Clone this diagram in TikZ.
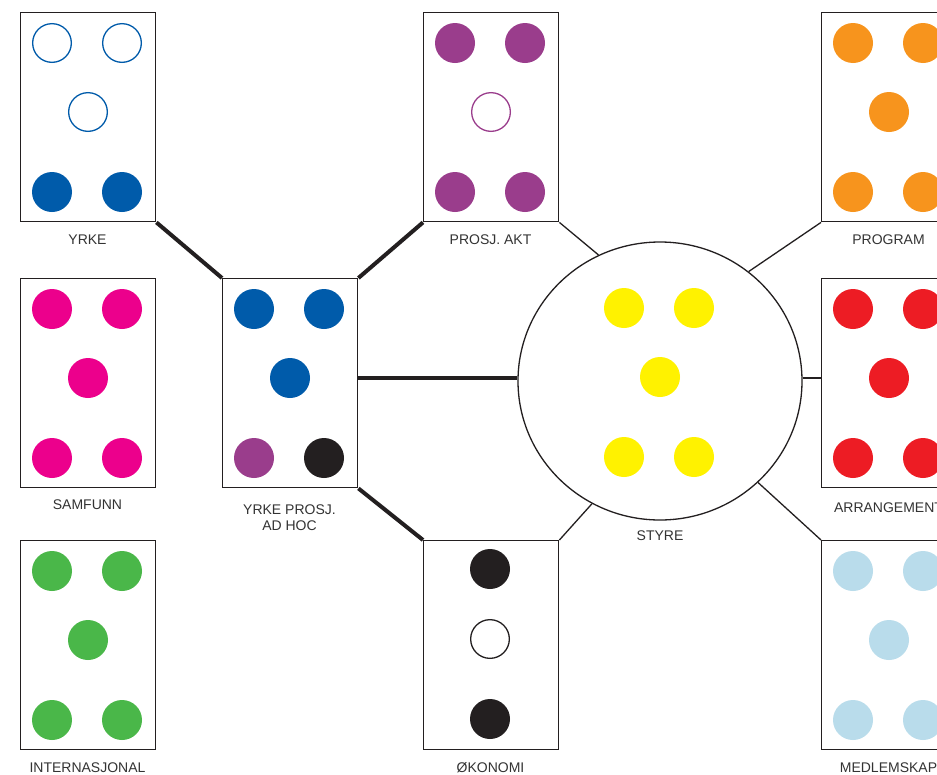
\documentclass[tikz,border=0pt]{standalone}
\usepackage{fontspec}
\setmainfont{Liberation Sans}
\usetikzlibrary{shapes.geometric}
\definecolor{cblue}{HTML}{005BAA}
\definecolor{cpurple}{HTML}{9A3D8C}
\definecolor{corange}{HTML}{F7941D}
\definecolor{cpink}{HTML}{EC008C}
\definecolor{cred}{HTML}{ED1C24}
\definecolor{cyellow}{HTML}{FFF200}
\definecolor{cgreen}{HTML}{4AB749}
\definecolor{clight}{HTML}{B9DCEB}
\definecolor{cblack}{HTML}{231F20}
\definecolor{ctext}{HTML}{333333}
\newcommand\dotset[8]{%
  \node[#4] (#1a) at (#2+32,#3+31) {};
  \node[#5] (#1b) at (#2+102,#3+31) {};
  \node[#6] (#1c) at (#2+68,#3+100) {};
  \node[#7] (#1d) at (#2+32,#3+180) {};
  \node[#8] (#1e) at (#2+102,#3+180) {};}
\begin{document}
\begin{tikzpicture}[x=1pt,y=-1pt,
  panel/.style={draw=cblack, line width=1.4pt, minimum width=135pt, minimum height=209pt, inner sep=0pt, anchor=north west},
  dot/.style={circle, fill=#1, minimum size=40pt, inner sep=0pt},
  odot/.style={circle, draw=#1, line width=1.3pt, fill=white, minimum size=38.7pt, inner sep=0pt},
  lab/.style={font=\fontsize{14}{16}\selectfont, text=ctext, align=center},
  heavylink/.style={line width=4pt, draw=cblack},
  lightlink/.style={line width=1.3pt, draw=cblack}]
\useasboundingbox (0,0) rectangle (937,774);
\clip (0,0) rectangle (937,774);
\fill[white] (0,0) rectangle (937,774);
% panels
\node[panel] (yrke) at (20,12) {};
\node[panel] (prosj) at (423,12) {};
\node[panel] (prog) at (821,12) {};
\node[panel] (samf) at (20,278) {};
\node[panel] (adhoc) at (222,278) {};
\node[panel] (arr) at (821,278) {};
\node[panel] (inter) at (20,540) {};
\node[panel] (oko) at (423,540) {};
\node[panel] (med) at (821,540) {};
\node[ellipse, draw=cblack, line width=1.3pt, minimum width=284pt, minimum height=278pt, inner sep=0pt] (styre) at (660,381) {};
% dots
\dotset{y}{20}{12}{odot=cblue}{odot=cblue}{odot=cblue}{dot=cblue}{dot=cblue}
\dotset{p}{423}{12}{dot=cpurple}{dot=cpurple}{odot=cpurple}{dot=cpurple}{dot=cpurple}
\dotset{g}{821}{12}{dot=corange}{dot=corange}{dot=corange}{dot=corange}{dot=corange}
\dotset{s}{20}{278}{dot=cpink}{dot=cpink}{dot=cpink}{dot=cpink}{dot=cpink}
\dotset{ah}{222}{278}{dot=cblue}{dot=cblue}{dot=cblue}{dot=cpurple}{dot=cblack}
\dotset{st}{592}{277}{dot=cyellow}{dot=cyellow}{dot=cyellow}{dot=cyellow}{dot=cyellow}
\dotset{ar}{821}{278}{dot=cred}{dot=cred}{dot=cred}{dot=cred}{dot=cred}
\dotset{i}{20}{540}{dot=cgreen}{dot=cgreen}{dot=cgreen}{dot=cgreen}{dot=cgreen}
\dotset{m}{821}{540}{dot=clight}{dot=clight}{dot=clight}{dot=clight}{dot=clight}
\node[dot=cblack] (oa) at (490,569) {};
\node[odot=cblack] (ob) at (490,639) {};
\node[dot=cblack] (oc) at (490,719) {};
% labels
\node[lab] (yrkeL) at (87.5,240) {YRKE};
\node[lab] (prosjL) at (490.5,240) {PROSJ. AKT};
\node[lab] (progL) at (888.5,240) {PROGRAM};
\node[lab] (samfL) at (87.5,505) {SAMFUNN};
\node[lab] (adhocL) at (289.5,518) {YRKE PROSJ.\\AD HOC};
\node[lab] (styreL) at (660,536) {STYRE};
\node[lab] (arrL) at (888.5,508) {ARRANGEMENT};
\node[lab] (interL) at (87.5,768) {INTERNASJONAL};
\node[lab] (okoL) at (490.5,768) {ØKONOMI};
\node[lab] (medL) at (888.5,768) {MEDLEMSKAP};
% connectors
\draw[heavylink] (yrke.south east) -- (adhoc.north west);
\draw[heavylink] (prosj.south west) -- (adhoc.north east);
\draw[heavylink] (adhoc.east |- ahc) -- (styre.west |- ahc);
\draw[heavylink] (adhoc.south east) -- (oko.north west);
\draw[lightlink] (prosj.south east) -- (styre.116);
\draw[lightlink] (prog.south west) -- (styre.51);
\draw[lightlink] (styre.east |- arc) -- (arr.west |- arc);
\draw[lightlink] (styre.-46) -- (med.north west);
\draw[lightlink] (styre.241) -- (oko.north east);
\end{tikzpicture}
\end{document}
